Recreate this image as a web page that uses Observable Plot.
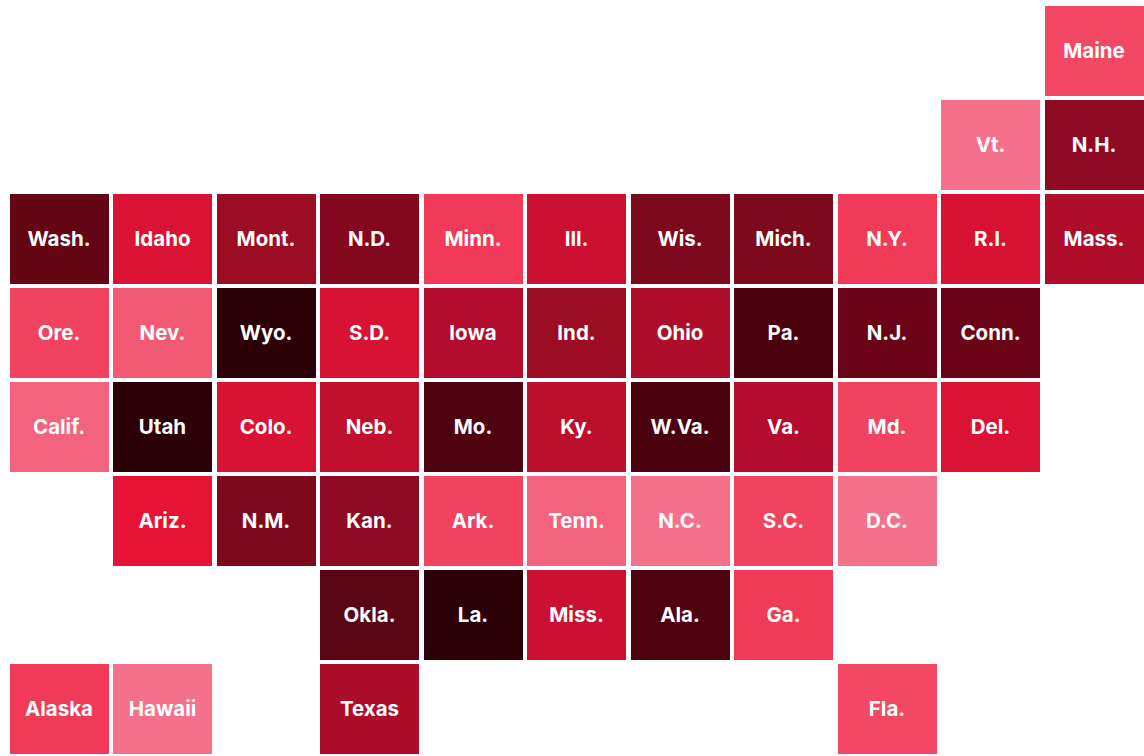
<!DOCTYPE html>
<html><head><meta charset="utf-8">
<script src="https://cdn.jsdelivr.net/npm/d3@7"></script>
<script src="https://cdn.jsdelivr.net/npm/@observablehq/plot@0.6"></script>
<style>html,body{margin:0;padding:0;background:#fff}svg{display:block}</style>
</head><body><div id="chart"></div>
<script>
const states = ["Maine","Vt.","N.H.","Wash.","Idaho","Mont.","N.D.","Minn.","Ill.","Wis.","Mich.","N.Y.","R.I.","Mass.","Ore.","Nev.","Wyo.","S.D.","Iowa","Ind.","Ohio","Pa.","N.J.","Conn.","Calif.","Utah","Colo.","Neb.","Mo.","Ky.","W.Va.","Va.","Md.","Del.","Ariz.","N.M.","Kan.","Ark.","Tenn.","N.C.","S.C.","D.C.","Okla.","La.","Miss.","Ala.","Ga.","Alaska","Hawaii","Texas","Fla."];
const columns = [10,9,10,0,1,2,3,4,5,6,7,8,9,10,0,1,2,3,4,5,6,7,8,9,0,1,2,3,4,5,6,7,8,9,1,2,3,4,5,6,7,8,3,4,5,6,7,0,1,3,8];
const rows = [0,1,1,2,2,2,2,2,2,2,2,2,2,2,3,3,3,3,3,3,3,3,3,3,4,4,4,4,4,4,4,4,4,4,5,5,5,5,5,5,5,5,6,6,6,6,6,7,7,7,7];
const tiers = [3,0,16,20,7,15,17,5,9,18,18,5,8,13,4,2,24,8,12,15,13,23,19,19,1,24,8,10,22,11,23,12,4,7,6,18,16,4,1,0,4,0,21,24,9,22,5,5,0,14,3];
const tierColors = ["#F5708A","#F3637D","#F25A73","#F24864","#F1425F","#F03A58","#E71337","#DA1335","#D71232","#CB1031","#C20F2D","#BC0F2C","#B30C2C","#AE0E2A","#AC0D28","#9C0C23","#8E0922","#83081D","#7C091C","#6C0417","#650615","#5C0515","#4F0210","#4B020F","#2C0107"];
const allCols = d3.range(11), allRows = d3.range(8);
const data = states.map((s,i)=>({s,c:columns[i],r:rows[i],t:tiers[i]}));
const fig = Plot.plot({
  width:1144,height:756,
  marginLeft:9.6,marginRight:0.4,marginTop:6,marginBottom:2,
  x:{type:"band",domain:allCols,axis:null,round:false,paddingInner:0.0435,paddingOuter:0,align:0},
  y:{type:"band",domain:allRows,axis:null,round:false,paddingInner:0.0426,paddingOuter:0,align:0},
  color:{type:"ordinal",domain:d3.range(tierColors.length),range:tierColors},
  marks:[
    Plot.cell(data,{x:"c",y:"r",fill:"t",shapeRendering:"crispEdges"}),
    Plot.text(data,{x:"c",y:"r",text:"s",fill:"#fff",dx:-0.6,dy:-0.5,fontSize:20.5,fontWeight:700,fontFamily:"Inter, sans-serif"})
  ]
});
document.getElementById("chart").append(fig);
</script></body></html>
